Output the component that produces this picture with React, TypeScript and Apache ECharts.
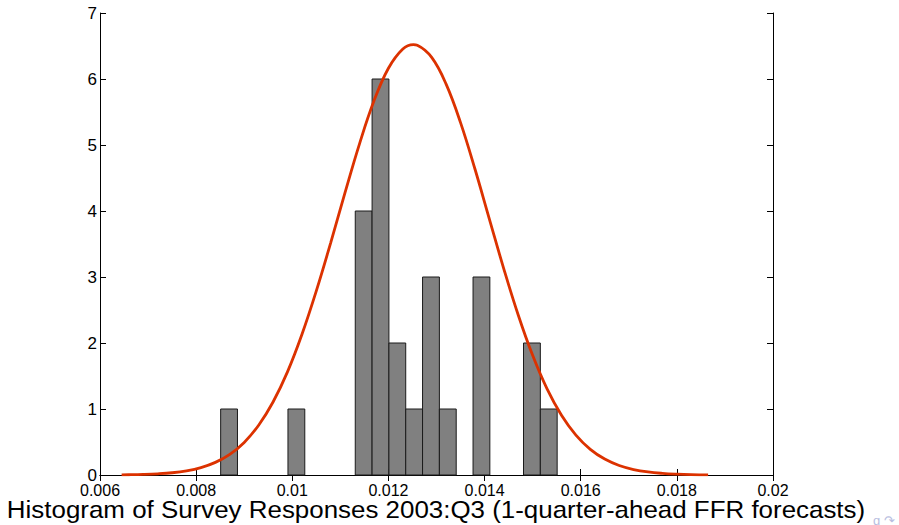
import React, { useEffect, useRef } from "react";
import * as echarts from "echarts";

// Histogram bin edges (20 bins) and counts
const binEdges = [
  0.00851, 0.00886, 0.00921, 0.00956, 0.00991, 0.01026, 0.01061, 0.01096, 0.01131, 0.01166,
  0.01201, 0.01236, 0.01271, 0.01306, 0.01341, 0.01376, 0.01411, 0.01446, 0.01481, 0.01516, 0.01551,
];
const binCounts = [1, 0, 0, 0, 1, 0, 0, 0, 4, 6, 2, 1, 3, 1, 0, 3, 0, 0, 2, 1];

// Fitted curve
const curveX = [
  0.00645, 0.0066, 0.0069, 0.0072, 0.0075, 0.0078, 0.0081, 0.0084, 0.0087, 0.009, 0.0093,
  0.0096, 0.0099, 0.0102, 0.0105, 0.0108, 0.0111, 0.0114, 0.0117, 0.012, 0.0123, 0.01252,
  0.0126, 0.0129, 0.0132, 0.0135, 0.0138, 0.0141, 0.0144, 0.0147, 0.015, 0.0153,
  0.0156, 0.0159, 0.0162, 0.0165, 0.0168, 0.0171, 0.0174, 0.0177, 0.018, 0.0183, 0.0186, 0.01865,
];
const curveY = [
  0.003, 0.004, 0.009, 0.018, 0.034, 0.063, 0.112, 0.191, 0.313, 0.494, 0.754,
  1.106, 1.562, 2.128, 2.789, 3.521, 4.286, 5.022, 5.669, 6.163, 6.455, 6.52,
  6.511, 6.327, 5.922, 5.339, 4.636, 3.878, 3.124, 2.425, 1.813, 1.305,
  0.906, 0.605, 0.389, 0.241, 0.144, 0.083, 0.046, 0.025, 0.013, 0.006, 0.003, 0.003,
];

const xTickValues = [0.006, 0.008, 0.01, 0.012, 0.014, 0.016, 0.018, 0.02];
const xTickLabels = ["0.006", "0.008", "0.01", "0.012", "0.014", "0.016", "0.018", "0.02"];
const yTickLabels = ["0", "1", "2", "3", "4", "5", "6", "7"];

const titleText = "Histogram of Survey Responses 2003:Q3 (1-quarter-ahead FFR forecasts)";

const FONT = "'Liberation Sans', Arial, Helvetica, sans-serif";

export default function App() {
  const ref = useRef<HTMLDivElement>(null);

  useEffect(() => {
    if (!ref.current) return;
    const chart = echarts.init(ref.current, undefined, { renderer: "svg" });

    const barData = binCounts
      .map((c, i) => [binEdges[i], binEdges[i + 1], c])
      .filter((d) => d[2] > 0);

    const xFmt = (v: number) => {
      const idx = xTickValues.findIndex((t) => Math.abs(t - v) < 1e-9);
      return idx >= 0 ? xTickLabels[idx] : "";
    };

    const axisLine = { show: true, lineStyle: { color: "#000", width: 1 } };
    const tick = { show: true, inside: true, length: 6, lineStyle: { color: "#000", width: 1 } };

    chart.setOption({
      animation: false,
      backgroundColor: "#fff",
      grid: { left: 100, right: 126, top: 13, bottom: 50, containLabel: false },
      xAxis: [
        {
          type: "value",
          min: 0.006,
          max: 0.02,
          interval: 0.002,
          position: "bottom",
          axisLine,
          axisTick: tick,
          splitLine: { show: false },
          axisLabel: {
            show: true,
            color: "#000",
            fontFamily: FONT,
            fontSize: 16,
            margin: 7,
            formatter: xFmt,
          },
        },
        {
          type: "value",
          min: 0.006,
          max: 0.02,
          interval: 0.002,
          position: "top",
          axisLine,
          axisTick: tick,
          splitLine: { show: false },
          axisLabel: { show: false },
        },
      ],
      yAxis: [
        {
          type: "value",
          min: 0,
          max: 7,
          interval: 1,
          position: "left",
          axisLine,
          axisTick: tick,
          splitLine: { show: false },
          axisLabel: {
            show: true,
            color: "#000",
            fontFamily: FONT,
            fontSize: 17,
            margin: 3,
            formatter: (v: number) => yTickLabels[Math.round(v)] ?? "",
          },
        },
        {
          type: "value",
          min: 0,
          max: 7,
          interval: 1,
          position: "right",
          axisLine,
          axisTick: tick,
          splitLine: { show: false },
          axisLabel: { show: false },
        },
      ],
      series: [
        {
          type: "custom",
          xAxisIndex: 0,
          yAxisIndex: 0,
          encode: { x: [0, 1], y: 2 },
          data: barData,
          z: 2,
          renderItem: (params: any, api: any) => {
            const p0 = api.coord([api.value(0), api.value(2)]);
            const p1 = api.coord([api.value(1), 0]);
            return {
              type: "rect",
              shape: { x: p0[0], y: p0[1], width: p1[0] - p0[0], height: p1[1] - p0[1] },
              style: { fill: "#808080", stroke: "#1a1a1a", lineWidth: 1 },
            };
          },
        },
        {
          type: "line",
          xAxisIndex: 0,
          yAxisIndex: 0,
          data: curveX.map((x, i) => [x, curveY[i]]),
          smooth: 0.4,
          showSymbol: false,
          symbol: "none",
          z: 5,
          lineStyle: { color: "#dc3200", width: 2.8 },
        },
      ],
      graphic: [
        {
          type: "text",
          x: 436,
          y: 509,
          scaleX: 1.08,
          style: {
            text: titleText,
            fill: "#000",
            font: `24px ${FONT}`,
            textAlign: "center",
            textVerticalAlign: "middle",
          },
        },
        {
          type: "text",
          x: 884,
          y: 520,
          style: {
            text: "ɑ ↷",
            fill: "#b8bde0",
            font: `13px ${FONT}`,
            textAlign: "center",
            textVerticalAlign: "middle",
          },
        },
      ],
    });

    return () => chart.dispose();
  }, []);

  return <div ref={ref} style={{ width: 899, height: 525, position: "fixed", left: 0, top: 0 }} />;
}
